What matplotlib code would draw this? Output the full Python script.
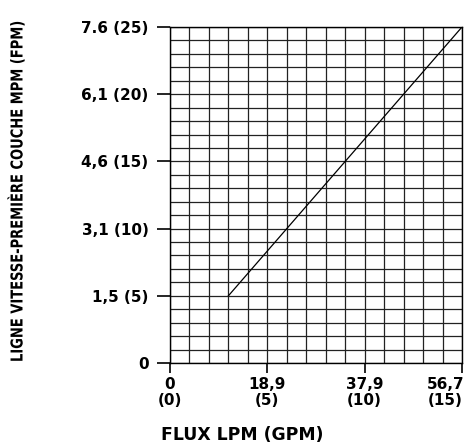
import matplotlib
matplotlib.use("Agg")
import matplotlib.pyplot as plt
from matplotlib import font_manager
from matplotlib.font_manager import FontProperties
from matplotlib.patheffects import AbstractPathEffect
from matplotlib.transforms import Affine2D, ScaledTranslation

# data (GPM vs FPM)
flow_gpm = [3, 15]
speed_fpm = [5, 25]

x_ticks = [0, 5, 10, 15]
x_labels = ["0\n(0)", "18,9\n(5)", "37,9\n(10)", "56,7\n(15)"]
y_ticks = [0, 5, 10, 15, 20, 25]
y_labels = ["0", "1,5 (5)", "3,1 (10)", "4,6 (15)", "6,1 (20)", "7.6 (25)"]


class Stretch(AbstractPathEffect):
    """Scale glyph outlines in their own frame (fake condensed face)."""

    def __init__(self, sx=1.0, sy=1.0):
        super().__init__()
        self.sx = sx
        self.sy = sy

    def draw_path(self, renderer, gc, tpath, affine, rgbFace=None):
        renderer.draw_path(gc, tpath, Affine2D().scale(self.sx, self.sy) + affine, rgbFace)


def condensed_font(size):
    for fam in ["Liberation Sans Narrow", "Noto Sans", "Open Sans", "DejaVu Sans"]:
        fp = FontProperties(family=fam, stretch="condensed", weight="bold", size=size)
        try:
            path = font_manager.findfont(fp, fallback_to_default=False)
        except Exception:
            continue
        name = path.lower()
        if "narrow" in name or "cond" in name:
            return fp
    return FontProperties(family="DejaVu Sans", weight="bold", size=size)


W, H = 474, 445
fig = plt.figure(figsize=(W / 100, H / 100), dpi=100)
ax = fig.add_axes([170 / W, 82 / H, 292 / W, 336 / H])

# grid: one line per GPM and per FPM
for gx in range(0, 16):
    ax.axvline(gx, color="#222222", lw=0.9, zorder=1)
for gy in range(0, 26):
    ax.axhline(gy, color="#222222", lw=0.9, zorder=1)

ax.plot(flow_gpm, speed_fpm, color="black", lw=0.9, zorder=3)

ax.set_xlim(0, 15)
ax.set_ylim(0, 25)
for s in ax.spines.values():
    s.set_linewidth(1.0)

tick_font = dict(family="DejaVu Sans", weight="bold", size=11)
ax.set_xticks(x_ticks)
ax.set_xticklabels(x_labels, **tick_font, linespacing=1.1)
ax.set_yticks(y_ticks)
ax.set_yticklabels(y_labels, **tick_font)
ax.tick_params(axis="x", direction="out", length=7.2, width=1.2, pad=3)
ax.tick_params(axis="y", direction="out", length=9.4, width=1.2, pad=6)

# last x label sits left of the tick (image edge)
last = ax.get_xticklabels()[-1]
last.set_transform(last.get_transform() + ScaledTranslation(-12 / 72, 0, fig.dpi_scale_trans))

fig.text(242 / W, 1 - 435 / H, "FLUX LPM (GPM)", ha="center", va="center",
         family="DejaVu Sans", weight="bold", size=12.4)

# y label: runs upward from y=362 px to about y=20 px, baseline at x=22 px;
# font size chosen so the length fits, glyphs then made taller
base_size = 11.8
ylab = fig.text(22.5 / W, 1 - 362 / H, "LIGNE VITESSE-PREMIÈRE COUCHE MPM (FPM)",
                rotation=90, rotation_mode="anchor", ha="left", va="baseline",
                fontproperties=condensed_font(base_size))
renderer = fig.canvas.get_renderer()
natural = ylab.get_window_extent(renderer).height
k = min(1.0, 342 / natural)
ylab.set_fontsize(base_size * k)
ylab.set_path_effects([Stretch(1.0, 1 / k)])

fig.savefig("out.png", dpi=100)
